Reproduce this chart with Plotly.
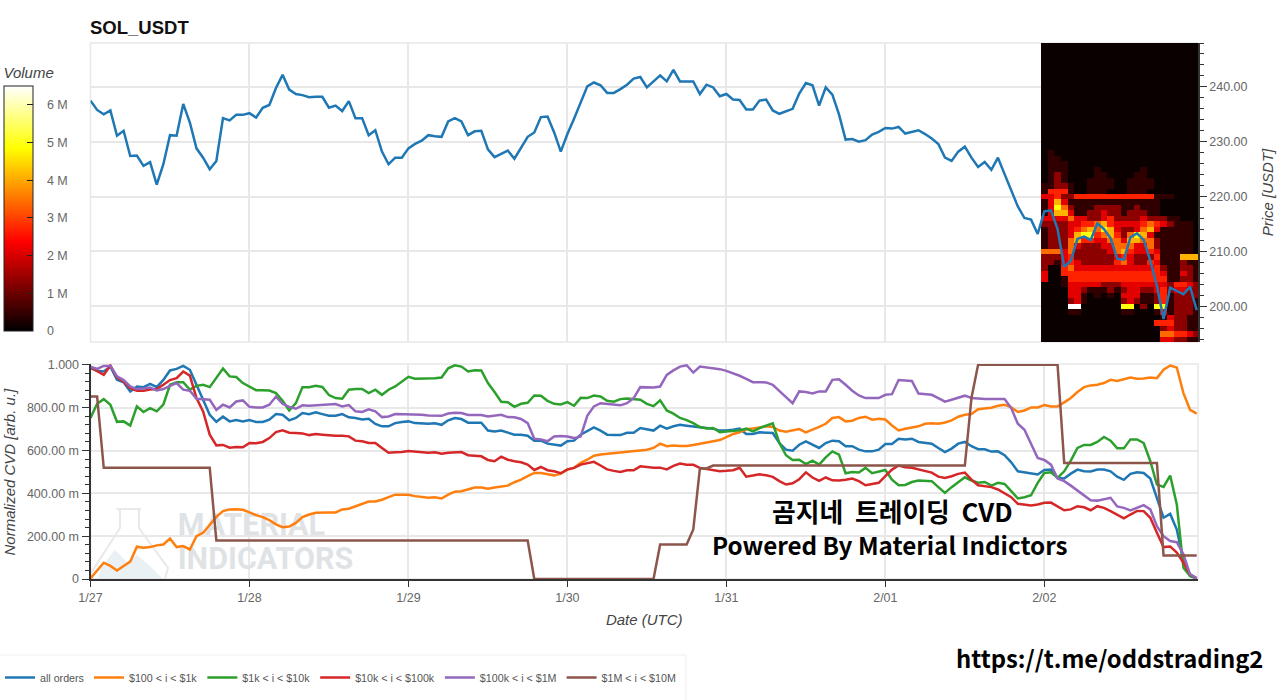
import numpy as np
import pandas as pd
import plotly.graph_objects as go

hours = pd.date_range("2025-01-27", periods=168, freq="h")
day_ticks = ["2025-01-27", "2025-01-28", "2025-01-29", "2025-01-30", "2025-01-31", "2025-02-01", "2025-02-02"]
day_labels = ["1/27", "1/28", "1/29", "1/30", "1/31", "2/01", "2/02"]

price = [237.5,235.8,235.0,235.7,231.1,232.0,227.4,227.5,225.6,226.3,222.2,225.9,231.2,231.1,236.9,233.5,228.8,227.1,225.0,226.5,234.3,233.9,234.9,234.9,
235.2,234.4,236.2,236.7,239.8,242.2,239.5,238.7,238.5,238.1,238.2,238.2,236.2,236.6,235.6,237.4,234.3,234.3,231.2,232.1,228.2,225.9,227.1,227.1,
228.8,229.6,230.2,231.2,231.0,230.9,233.7,234.3,233.7,231.2,231.9,232.0,228.6,227.2,227.8,228.4,226.9,228.9,230.9,231.7,234.5,234.6,231.7,228.2,
231.4,234.2,237.2,240.1,240.8,240.3,238.9,238.9,239.6,240.4,241.5,241.8,239.9,241.0,242.1,241.0,243.1,241.0,241.0,241.0,238.7,240.4,239.9,238.3,
238.7,237.7,237.6,235.9,235.9,237.5,237.7,235.7,235.1,235.6,236.0,238.8,240.7,240.3,236.6,239.9,238.6,235.0,230.4,230.5,230.0,230.3,231.3,231.8,
232.5,232.4,232.7,231.5,231.8,232.1,231.4,230.6,229.6,227.1,226.5,228.2,229.1,227.1,225.4,226.3,224.9,227.1,224.1,221.2,218.2,216.1,215.8,213.2,
217.3,217.5,214.1,207.2,208.3,212.3,212.7,212.1,215.1,214.1,212.4,208.7,208.5,212.6,213.3,212.1,208.3,203.7,197.7,203.4,202.8,202.2,203.6,199.3]

all_orders = [.985,.972,.969,.992,.930,.919,.876,.899,.896,.911,.896,.930,.974,.981,.995,.977,.907,.837,.767,.734,.758,.736,.742,.736,
.742,.733,.733,.744,.770,.767,.741,.752,.775,.770,.778,.770,.762,.762,.770,.755,.752,.745,.748,.724,.713,.713,.728,.733,
.736,.728,.725,.725,.727,.720,.741,.752,.747,.730,.730,.730,.693,.689,.693,.682,.674,.674,.669,.646,.646,.632,.627,.623,
.643,.646,.674,.693,.708,.693,.674,.672,.672,.683,.683,.705,.699,.693,.716,.702,.713,.720,.716,.713,.708,.705,.702,.693,
.693,.697,.702,.677,.677,.685,.685,.682,.635,.604,.599,.627,.643,.627,.612,.635,.646,.643,.620,.620,.604,.596,.596,.604,
.630,.630,.655,.652,.655,.640,.635,.632,.612,.593,.609,.632,.640,.620,.606,.606,.595,.596,.578,.545,.503,.498,.491,.488,
.509,.511,.472,.469,.492,.511,.503,.502,.511,.511,.503,.478,.463,.491,.498,.495,.469,.379,.286,.304,.231,.084,.014,.003]

usd_100_1k = [.003,.037,.076,.061,.040,.061,.081,.151,.146,.149,.157,.161,.189,.149,.154,.138,.200,.216,.252,.290,.317,.325,.326,.323,
.311,.298,.289,.275,.255,.242,.245,.262,.289,.301,.309,.311,.311,.311,.325,.328,.339,.349,.362,.362,.370,.382,.394,.394,
.393,.387,.384,.379,.382,.376,.394,.408,.410,.419,.427,.427,.421,.427,.430,.436,.452,.464,.480,.495,.495,.491,.484,.492,
.511,.519,.542,.557,.576,.581,.584,.589,.593,.595,.596,.601,.604,.612,.632,.620,.623,.621,.621,.626,.632,.638,.643,.649,
.663,.677,.685,.699,.703,.708,.713,.710,.693,.688,.693,.700,.685,.697,.710,.725,.752,.756,.736,.739,.752,.758,.744,.748,
.745,.717,.694,.702,.707,.713,.725,.727,.725,.731,.741,.758,.767,.770,.793,.798,.800,.809,.814,.801,.780,.787,.801,.801,
.812,.806,.806,.825,.845,.873,.896,.904,.907,.915,.930,.925,.933,.941,.935,.936,.941,.938,.977,.997,.988,.868,.790,.772]

usd_1k_10k = [.752,.818,.840,.814,.734,.736,.716,.806,.780,.798,.783,.814,.907,.919,.919,.884,.902,.907,.896,.938,.983,.946,.943,.915,
.899,.882,.882,.880,.868,.832,.787,.821,.896,.896,.902,.897,.859,.845,.842,.884,.887,.887,.868,.884,.860,.884,.899,.922,
.944,.935,.935,.935,.938,.941,.984,.998,.992,.969,.975,.974,.915,.873,.828,.825,.804,.818,.823,.857,.856,.832,.818,.815,
.826,.809,.846,.845,.857,.852,.832,.828,.840,.843,.840,.837,.818,.807,.834,.787,.772,.752,.742,.728,.710,.703,.705,.686,
.689,.693,.694,.702,.689,.705,.717,.727,.635,.578,.556,.557,.537,.553,.534,.568,.596,.581,.494,.500,.497,.519,.494,.500,
.509,.464,.438,.439,.453,.460,.460,.457,.429,.402,.429,.453,.475,.460,.450,.453,.436,.449,.444,.410,.376,.382,.391,.449,
.495,.498,.472,.503,.553,.612,.626,.626,.640,.663,.646,.610,.610,.652,.652,.635,.550,.441,.430,.483,.348,.053,.014,.003]

usd_10k_100k = [.988,.969,.953,.997,.941,.922,.891,.879,.879,.885,.887,.907,.929,.938,.969,.950,.845,.783,.674,.624,.626,.613,.616,.615,
.635,.634,.640,.658,.686,.694,.683,.682,.680,.672,.677,.674,.671,.669,.669,.666,.646,.643,.635,.635,.612,.590,.592,.593,
.598,.595,.592,.590,.592,.585,.590,.593,.593,.578,.575,.573,.556,.550,.571,.557,.550,.545,.534,.509,.523,.508,.503,.494,
.512,.519,.534,.539,.547,.530,.512,.505,.500,.508,.508,.526,.522,.519,.520,.512,.528,.539,.534,.533,.519,.514,.506,.503,
.505,.508,.519,.478,.483,.489,.484,.477,.457,.441,.447,.466,.498,.474,.458,.474,.461,.460,.464,.469,.457,.438,.444,.449,
.480,.511,.530,.522,.519,.511,.502,.497,.478,.472,.480,.491,.497,.464,.438,.433,.429,.418,.399,.382,.351,.346,.343,.348,
.356,.357,.340,.321,.325,.340,.335,.321,.340,.332,.317,.301,.283,.301,.318,.317,.286,.216,.149,.152,.123,.076,.022,.003]

usd_100k_1m = [.991,.981,.995,.995,.946,.929,.899,.887,.890,.894,.880,.887,.902,.915,.884,.879,.842,.839,.837,.790,.814,.801,.829,.834,
.804,.801,.801,.814,.852,.818,.804,.795,.811,.809,.811,.812,.815,.817,.806,.812,.783,.780,.792,.783,.756,.759,.770,.770,
.770,.767,.767,.764,.762,.762,.773,.776,.775,.766,.766,.766,.759,.762,.767,.756,.755,.747,.728,.655,.652,.643,.666,.668,
.665,.658,.666,.762,.806,.821,.817,.814,.811,.821,.845,.896,.896,.894,.899,.953,.974,.992,.998,.964,.992,.988,.981,.980,
.972,.961,.949,.935,.919,.919,.918,.907,.876,.849,.821,.876,.873,.866,.876,.876,.930,.933,.907,.879,.857,.845,.845,.845,
.860,.863,.929,.927,.925,.866,.863,.860,.845,.828,.837,.848,.856,.845,.842,.840,.840,.840,.840,.798,.725,.697,.627,.565,
.556,.534,.469,.457,.436,.413,.387,.368,.366,.371,.379,.339,.332,.320,.332,.345,.325,.247,.200,.177,.172,.115,.022,.003]

usd_1m_10m = [.852,.852,.519,.519,.519,.519,.519,.519,.519,.519,.519,.519,.519,.519,.519,.519,.519,.519,.519,.180,.180,.180,.180,.180,
.180,.180,.180,.180,.180,.180,.180,.180,.180,.180,.180,.180,.180,.180,.180,.180,.180,.180,.180,.180,.180,.180,.180,.180,
.180,.180,.180,.180,.180,.180,.180,.180,.180,.180,.180,.180,.180,.180,.180,.180,.180,.180,.180,0,0,0,0,0,
0,0,0,0,0,0,0,0,0,0,0,0,0,0,.161,.161,.161,.161,.161,.231,.516,.516,.530,.530,
.530,.530,.530,.530,.530,.530,.530,.530,.530,.530,.530,.530,.530,.530,.530,.530,.530,.530,.530,.530,.530,.530,.530,.530,
.530,.530,.530,.530,.530,.530,.530,.530,.530,.530,.530,.530,.530,.845,1,1,1,1,1,1,1,1,1,1,
1,1,1,.542,.542,.542,.542,.542,.542,.542,.542,.542,.542,.542,.542,.542,.542,.542,.110,.110,.110,.110,.110,.110]

series_names = ["all orders", "$100 < i < $1k", "$1k < i < $10k", "$10k < i < $100k", "$100k < i < $1M", "$1M < i < $10M"]
series_values = [all_orders, usd_100_1k, usd_1k_10k, usd_10k_100k, usd_100k_1m, usd_1m_10m]
series_colors = ["#1f77b4", "#ff7f0e", "#2ca02c", "#d62728", "#9467bd", "#8c564b"]

heat_hours = hours[144:]
heat_prices = list(range(248, 193, -1))
heat_levels = [0.1e6, 0.45e6, 1.3e6, 2.1e6, 2.7e6, 3.4e6, 4.1e6, 4.9e6, 5.6e6, 6.5e6]
heat_rows = ["000000000000000000000000"] * 20 + [
"010000000000000000000000",  # 228
"011000000000000000000000",
"011100000000000000000000",
"011100001000000100000000",
"012100001100001100000000",
"012100011110011110000000",
"112210011110011110000000",
"144410011100011100000000",
"334224444444444441110000",
"136311111111111111000000",
"137521112222112111000000",
"136631122322122211000000",
"333353322342222322211000",
"222233445643333454321110",
"122234565763223563111110",
"122236774564257631111110",
"122256443355366552111110",
"122253222335553352111110",
"555352222235643343111110",
"222342222223432224111666",
"221343222224532243111211",
"200453333333333334211221",
"300444444444444444311321",
"300144444444444444411221",
"000133333222333333324432",
"000033211121233223423322",
"000033101010333112412222",
"000023100000232112412221",
"000099000000770207712221",
"000011000000110001312221",
"000000000000000000132211",
"000000000000000004442211",
"000000000000000000232211",
"000000000000000000554432",
"000000000000000000332211",
]
heat_z = [[heat_levels[int(c)] for c in row] for row in heat_rows]
for s in series_values + [price]:
    assert len(s) == 168, len(s)
assert len(heat_rows) == len(heat_prices), (len(heat_rows), len(heat_prices))

volume_ticks = [0, 1e6, 2e6, 3e6, 4e6, 5e6, 6e6]
volume_labels = ["\u00a0\u00a0\u00a00", "\u00a0\u00a0\u00a01 M", "\u00a0\u00a0\u00a02 M", "\u00a0\u00a0\u00a03 M",
                 "\u00a0\u00a0\u00a04 M", "\u00a0\u00a0\u00a05 M", "\u00a0\u00a0\u00a06 M"]
cvd_ticks = [0, .2, .4, .6, .8, 1]
cvd_labels = ["0", "200.00 m", "400.00 m", "600.00 m", "800.00 m", "1.000"]

W, H = 1280, 700
FONT = "Liberation Sans"
TICK = "#666666"
GRID = "#e8e8e8"
KR = "Noto Sans CJK KR"


def fx(x):
    return x / W


def fy(y):
    return 1 - y / H


def path(points, close=True):
    s = "M " + " L ".join(f"{fx(x):.5f},{fy(y):.5f}" for x, y in points)
    return s + (" Z" if close else "")


x_range = ["2025-01-27 00:00", "2025-02-02 23:12"]

fig = go.Figure()

# watermark words sit under the lines
fig.add_trace(go.Scatter(
    x=["2025-01-27 13:10", "2025-01-27 13:10"], y=[.243, .080], mode="text",
    text=["MATERIAL", "INDICATORS"], textposition="middle right",
    textfont=dict(family="Roboto", size=30.5, color="#dfe3e6", weight="bold"),
    showlegend=False, hoverinfo="skip", xaxis="x", yaxis="y"))

for name, vals, col in zip(series_names, series_values, series_colors):
    fig.add_trace(go.Scatter(x=hours, y=vals, mode="lines", name=name, xaxis="x", yaxis="y",
                             line=dict(color=col, width=2.5), hoverinfo="skip"))

fig.add_trace(go.Heatmap(
    x=heat_hours, y=heat_prices, z=heat_z, xaxis="x2", yaxis="y2", zmin=0, zmax=6.5e6, hoverinfo="skip",
    colorscale=[[0, "#000000"], [0.365, "#ff0000"], [0.746, "#ffff00"], [1, "#ffffff"]],
    colorbar=dict(
        x=4 / W, xanchor="left", y=fy(331), yanchor="bottom", thickness=29, thicknessmode="pixels",
        len=267, lenmode="pixels", xpad=0, ypad=0, outlinecolor="#222222", outlinewidth=1,
        tickmode="array", tickvals=volume_ticks, ticktext=volume_labels, ticks="inside", ticklen=6,
        tickcolor="#222222", tickfont=dict(family=FONT, size=12.5, color=TICK),
        title=dict(text="Volume", side="top", font=dict(family=FONT, size=15, color="#444444", style="italic")),
    ), showlegend=False))

fig.add_trace(go.Scatter(x=hours, y=price, mode="lines", xaxis="x2", yaxis="y2", showlegend=False,
                         line=dict(color="#1f77b4", width=2.5), hoverinfo="skip"))

flask = [(118, 509), (140, 509), (139, 511), (139, 528), (168, 568), (165, 579), (92, 579), (91, 573), (120, 528), (120, 511)]
hill = [(97, 579), (103, 565), (115, 550), (127, 562), (137, 555), (150, 566), (163, 579)]

shapes = [
    dict(type="path", xref="paper", yref="paper", layer="below", path=path(hill), fillcolor="#e9f1f4", line=dict(width=0)),
    dict(type="path", xref="paper", yref="paper", layer="below", path=path(flask), fillcolor="rgba(0,0,0,0)",
         line=dict(color="#e9e9e9", width=2)),
    # panel frames
    dict(type="rect", xref="paper", yref="paper", layer="below", x0=fx(90.5), x1=fx(1198), y0=fy(342), y1=fy(43),
         line=dict(color=GRID, width=1.5)),
    dict(type="rect", xref="paper", yref="paper", layer="below", x0=fx(90.5), x1=fx(1198), y0=fy(579), y1=fy(364),
         line=dict(color=GRID, width=1.5)),
    # legend box
    dict(type="rect", xref="paper", yref="paper", layer="below", x0=fx(-4), x1=fx(686), y0=fy(705), y1=fy(655),
         line=dict(color="#f0f0f0", width=1), fillcolor="#ffffff"),
]

annotations = [
    dict(text="곰지네  트레이딩  CVD", xref="paper", yref="paper", x=fx(892), y=fy(510), xanchor="center", yanchor="middle",
         showarrow=False, font=dict(family=KR, size=25.8, color="#000000", weight="bold")),
    dict(text="Powered By Material Indictors", xref="paper", yref="paper", x=fx(889.5), y=fy(544), xanchor="center",
         yanchor="middle", showarrow=False, font=dict(family=KR, size=24.2, color="#000000", weight="bold")),
    dict(text="https://t.me/oddstrading2", xref="paper", yref="paper", x=fx(1109.5), y=fy(657), xanchor="center",
         yanchor="middle", showarrow=False, font=dict(family=KR, size=23.8, color="#000000", weight="bold")),
    dict(text="Normalized CVD [arb. u.]", xref="paper", yref="paper", x=fx(9), y=fy(471.5), xanchor="center",
         yanchor="middle", textangle=-90, showarrow=False, font=dict(family=FONT, size=15, color="#444444", style="italic")),
]

fig.update_layout(
    width=W, height=H, margin=dict(l=0, r=0, t=0, b=0, autoexpand=False), paper_bgcolor="#ffffff", plot_bgcolor="#ffffff",
    font=dict(family=FONT, color=TICK),
    title=dict(text="<b>SOL_USDT</b>", x=fx(90), xanchor="left", y=fy(28), yanchor="middle",
               font=dict(family=FONT, size=18.5, color="#111111")),
    xaxis=dict(domain=[fx(90.5), fx(1198)], range=x_range, anchor="y", tickmode="array", tickvals=day_ticks,
               ticktext=day_labels, ticks="outside", ticklen=6, tickcolor="#333333", showline=True, linecolor="#333333",
               linewidth=2, gridcolor=GRID, gridwidth=1.5, tickfont=dict(size=12.5, color=TICK), zeroline=False,
               title=dict(text="Date (UTC)", standoff=10, font=dict(size=15, color="#444444", style="italic"))),
    yaxis=dict(domain=[fy(579), fy(364)], range=[0, 1.004], anchor="x", tickmode="array", tickvals=cvd_ticks,
               ticktext=cvd_labels, ticks="outside", ticklen=7, tickcolor="#333333", showline=True, linecolor="#333333",
               linewidth=2, gridcolor=GRID, gridwidth=1.5, tickfont=dict(size=12.5, color=TICK), zeroline=False,
               minor=dict(tickmode="array", tickvals=np.arange(0, 1.001, 0.04).tolist(), ticks="outside", ticklen=4,
                          tickcolor="#333333", showgrid=False)),
    xaxis2=dict(domain=[fx(90.5), fx(1198)], range=x_range, anchor="y2", tickmode="array", tickvals=day_ticks,
                showticklabels=False, ticks="", gridcolor=GRID, gridwidth=1.5, zeroline=False, showline=False),
    yaxis2=dict(domain=[fy(342), fy(43)], range=[193.5, 248], anchor="x2", side="right", dtick=10, tick0=200,
                tickformat=".2f", ticks="outside", ticklen=7, tickcolor="#333333", showline=True, linecolor="#333333",
                linewidth=1.5, gridcolor=GRID, gridwidth=1.5, tickfont=dict(size=12.5, color=TICK), zeroline=False,
                minor=dict(dtick=2, ticks="outside", ticklen=4, tickcolor="#333333", showgrid=False),
                title=dict(text="Price [USDT]", standoff=16, font=dict(size=15, color="#444444", style="italic"))),
    legend=dict(orientation="h", x=0, xanchor="left", y=fy(663), yanchor="top", bgcolor="rgba(0,0,0,0)",
                font=dict(family=FONT, size=10.7, color="#555555"), itemclick=False, itemdoubleclick=False),
    shapes=shapes, annotations=annotations,
)

fig.write_html("out.html", config=dict(displayModeBar=False),
               post_script="document.body.style.margin='0';document.body.style.overflow='hidden';")
